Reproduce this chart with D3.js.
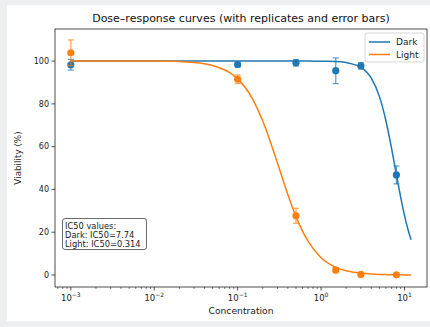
<!DOCTYPE html>
<html>
<head>
<meta charset="utf-8">
<script src="https://cdn.jsdelivr.net/npm/d3@7"></script>
<style>
  html, body { margin: 0; padding: 0; background: #eceef0; }
  svg { display: block; font-family: "DejaVu Sans", sans-serif; }
</style>
</head>
<body>
<script>
// measured concentrations and mean viability (%) with error (sd)
const conc = [0.001, 0.1, 0.5, 1.5, 3, 8];
const darkMean = [98.3, 98.4, 99.2, 95.5, 97.8, 46.8];
const darkErr = [2.5, 1.2, 1.5, 6.0, 1.5, 4.2];
const lightMean = [103.9, 91.5, 27.7, 2.3, 0.3, 0.1];
const lightErr = [6.0, 2.0, 3.5, 1.2, 0.5, 0.4];

// fitted curves
const fitConc = [0.001, 0.01, 0.03, 0.05, 0.08, 0.1, 0.15, 0.2, 0.3, 0.4, 0.5, 0.7, 1, 1.5, 2, 3, 4, 5, 6, 7, 8, 9, 10, 11, 12];
const darkFit = [100, 100, 100, 100, 100, 100, 100, 100, 100, 100, 100, 100, 99.9, 99.8, 99.3, 97.1, 92.0, 83.5, 72.0, 59.2, 46.9, 36.4, 27.9, 21.4, 16.5];
const lightFit = [100, 100, 99.3, 97.9, 94.6, 91.7, 82.5, 72.0, 52.4, 37.6, 27.3, 15.7, 8.1, 3.6, 2.0, 0.9, 0.5, 0.3, 0.2, 0.15, 0.11, 0.08, 0.06, 0.05, 0.05];

const yTicks = [0, 20, 40, 60, 80, 100];
const xTicks = [-3, -2, -1, 0, 1];
const ic50Lines = ["IC50 values:", "Dark: IC50=7.74", "Light: IC50=0.314"];
const seriesNames = ["Dark", "Light"];
const colors = ["#1f77b4", "#ff7f0e"];

const W = 430, H = 327;
const box = {left: 55, right: 427, top: 29, bottom: 287};

const svg = d3.select("body").append("svg").attr("width", W).attr("height", H);

svg.append("rect").attr("x", 7).attr("y", 5).attr("width", W - 7).attr("height", 316).attr("fill", "#fff");

const x = d3.scaleLog()
    .domain([Math.pow(10, -3.19), Math.pow(10, 1.27)])
    .range([box.left, box.right]);
const y = d3.scaleLinear()
    .domain([-5.6, 115])
    .range([box.bottom, box.top]);

// title
svg.append("text")
    .attr("x", (box.left + box.right) / 2).attr("y", 22)
    .attr("text-anchor", "middle").attr("font-size", 11).attr("fill", "#111")
    .text("Dose–response curves (with replicates and error bars)");

// y axis
const gy = svg.append("g").attr("font-size", 8);
yTicks.forEach(t => {
  gy.append("line").attr("x1", box.left - 3.5).attr("x2", box.left)
      .attr("y1", y(t)).attr("y2", y(t)).attr("stroke", "#222").attr("stroke-width", 0.8);
  gy.append("text").attr("x", box.left - 6).attr("y", y(t)).attr("dy", "0.35em")
      .attr("text-anchor", "end").attr("fill", "#222").text(t);
});
svg.append("text")
    .attr("transform", `translate(21,${(box.top + box.bottom) / 2}) rotate(-90)`)
    .attr("text-anchor", "middle").attr("font-size", 8.8).attr("fill", "#222")
    .text("Viability (%)");

// x axis with log minor ticks
const gx = svg.append("g").attr("font-size", 8.5);
for (let e = -4; e <= 1; e++) {
  for (let m = 1; m < 10; m++) {
    const v = m * Math.pow(10, e);
    const px = x(v);
    if (px < box.left || px > box.right) continue;
    gx.append("line").attr("x1", px).attr("x2", px)
        .attr("y1", box.bottom).attr("y2", box.bottom + (m === 1 ? 3.5 : 2))
        .attr("stroke", "#222").attr("stroke-width", m === 1 ? 0.8 : 0.6);
  }
}
xTicks.forEach(e => {
  const t = gx.append("text").attr("x", x(Math.pow(10, e))).attr("y", box.bottom + 14)
      .attr("text-anchor", "middle").attr("fill", "#222");
  t.append("tspan").text("10");
  t.append("tspan").attr("font-size", 6).attr("dy", -4).text(e < 0 ? "−" + (-e) : e);
});
svg.append("text")
    .attr("x", (box.left + box.right) / 2).attr("y", 314)
    .attr("text-anchor", "middle").attr("font-size", 9.2).attr("fill", "#222")
    .text("Concentration");

const line = d3.line()
    .x(d => x(d[0]))
    .y(d => y(d[1]))
    .curve(d3.curveMonotoneX);

const plot = svg.append("g");

function drawSeries(means, errs, fit, color) {
  const g = plot.append("g");
  conc.forEach((c, i) => {
    const px = x(c), lo = y(means[i] - errs[i]), hi = y(means[i] + errs[i]);
    g.append("line").attr("x1", px).attr("x2", px).attr("y1", lo).attr("y2", hi)
        .attr("stroke", color).attr("stroke-width", 1.2).attr("opacity", 0.7);
    [lo, hi].forEach(yy => g.append("line")
        .attr("x1", px - 3).attr("x2", px + 3).attr("y1", yy).attr("y2", yy)
        .attr("stroke", color).attr("stroke-width", 1.2).attr("opacity", 0.7));
    g.append("circle").attr("cx", px).attr("cy", y(means[i])).attr("r", 3.6).attr("fill", color);
  });
  g.append("path")
      .datum(fitConc.map((c, i) => [c, fit[i]]))
      .attr("fill", "none").attr("stroke", color).attr("stroke-width", 1.5)
      .attr("d", line);
}

drawSeries(darkMean, darkErr, darkFit, colors[0]);
drawSeries(lightMean, lightErr, lightFit, colors[1]);

// spines
svg.append("rect")
    .attr("x", box.left).attr("y", box.top)
    .attr("width", box.right - box.left).attr("height", box.bottom - box.top)
    .attr("fill", "none").attr("stroke", "#222").attr("stroke-width", 0.8);

// legend
const lg = svg.append("g").attr("font-size", 9);
lg.append("rect").attr("x", 365).attr("y", 33).attr("width", 59).attr("height", 29).attr("rx", 2)
    .attr("fill", "#fff").attr("fill-opacity", 0.8).attr("stroke", "#ccc").attr("stroke-width", 0.8);
seriesNames.forEach((n, i) => {
  const yy = 42 + i * 12.5;
  lg.append("line").attr("x1", 369).attr("x2", 390).attr("y1", yy).attr("y2", yy)
      .attr("stroke", colors[i]).attr("stroke-width", 1.5);
  lg.append("text").attr("x", 396).attr("y", yy).attr("dy", "0.35em").attr("fill", "#222").text(n);
});

// IC50 annotation box
const ab = svg.append("g").attr("font-size", 8.3);
ab.append("rect").attr("x", 62.5).attr("y", 218.5).attr("width", 84).attr("height", 31).attr("rx", 2.5)
    .attr("fill", "#fff").attr("stroke", "#444").attr("stroke-width", 0.8);
ic50Lines.forEach((s, i) => {
  ab.append("text").attr("x", 65).attr("y", 228.5 + i * 9.2).attr("fill", "#222").text(s);
});
</script>
</body>
</html>
